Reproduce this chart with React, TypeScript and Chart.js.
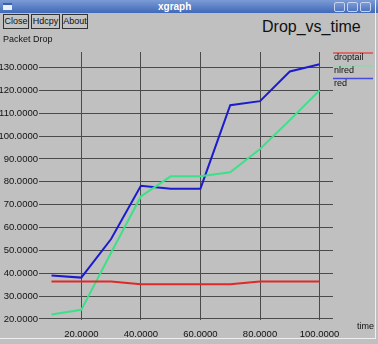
import React, { useEffect, useRef } from "react";
import { Chart, registerables } from "chart.js";

Chart.register(...registerables);

const times = [10, 20, 30, 40, 50, 60, 70, 80, 90, 100];
const droptail = [36.4, 36.4, 36.4, 35.2, 35.2, 35.2, 35.2, 36.4, 36.4, 36.4];
const nlred = [22, 24, 49, 73.6, 82.4, 82.4, 84.2, 94.4, 107, 120];
const red = [39, 38.1, 55, 78.3, 77, 77, 113.5, 115.3, 128.3, 131.4];
const xTicks = [20, 40, 60, 80, 100];
const yTicks = [20, 30, 40, 50, 60, 70, 80, 90, 100, 110, 120, 130];
const seriesNames = ["droptail", "nlred", "red"];
const seriesColors = ["#e02828", "#3ce088", "#1c1ccc"];
const legendColors = ["#e05050", "#80e0a8", "#4a4ad8"];

const FONT = "'Liberation Sans', Arial, sans-serif";

export default function App() {
  const ref = useRef<HTMLCanvasElement | null>(null);

  useEffect(() => {
    if (!ref.current) return;
    const series = [droptail, nlred, red];
    const legendPlugin = {
      id: "xgLegend",
      afterDraw(chart: any) {
        const ctx = chart.ctx;
        const a = chart.chartArea;
        ctx.save();
        ctx.font = `9px ${FONT}`;
        ctx.textBaseline = "middle";
        ctx.textAlign = "left";
        seriesNames.forEach((name, i) => {
          const y = a.top + 1 + i * 12.7;
          ctx.strokeStyle = legendColors[i];
          ctx.lineWidth = 1.5;
          ctx.beginPath();
          ctx.moveTo(a.right, y);
          ctx.lineTo(a.right + 40, y);
          ctx.stroke();
          ctx.fillStyle = "#111";
          ctx.fillText(name, a.right + 1, y + 5);
        });
        ctx.fillText("Packet Drop", 3, 40);
        ctx.fillText("time", 357, 327);
        ctx.restore();
      },
    };
    const chart = new Chart(ref.current, {
      type: "line",
      data: {
        datasets: series.map((s, i) => ({
          label: seriesNames[i],
          data: s.map((v, j) => ({ x: times[j], y: v })),
          borderColor: seriesColors[i],
          backgroundColor: seriesColors[i],
          borderWidth: 2,
          pointRadius: 0,
          tension: 0,
          fill: false,
        })),
      },
      options: {
        animation: false,
        responsive: false,
        maintainAspectRatio: false,
        layout: { padding: { top: 52, right: 45, left: 0, bottom: 0 } },
        plugins: {
          legend: { display: false },
          tooltip: { enabled: false },
          title: { display: false },
        },
        scales: {
          x: {
            type: "linear",
            min: 5.8,
            max: 104.5,
            border: { display: false },
            grid: { color: "#4a4a4a", lineWidth: 1, drawTicks: false },
            afterBuildTicks: (scale: any) => {
              scale.ticks = xTicks.map((v) => ({ value: v }));
            },
            afterFit: (scale: any) => {
              scale.height = 24;
            },
            ticks: {
              padding: 9,
              color: "#111",
              font: { family: FONT, size: 9.5 },
              maxRotation: 0,
              autoSkip: false,
              callback: (v: any) => Number(v).toFixed(4),
            },
          },
          y: {
            type: "linear",
            min: 19.56,
            max: 136.8,
            border: { display: false },
            grid: { color: "#4a4a4a", lineWidth: 1, drawTicks: false },
            afterBuildTicks: (scale: any) => {
              scale.ticks = yTicks.map((v) => ({ value: v }));
            },
            afterFit: (scale: any) => {
              scale.width = 39;
            },
            ticks: {
              padding: 1,
              color: "#111",
              font: { family: FONT, size: 9.5 },
              autoSkip: false,
              callback: (v: any) => Number(v).toFixed(4),
            },
          },
        },
      },
      plugins: [legendPlugin],
    });
    return () => chart.destroy();
  }, []);

  const btn: React.CSSProperties = {
    position: "absolute",
    top: 14,
    height: 15,
    boxSizing: "border-box",
    border: "1px solid #333",
    background: "#c4c4c4",
    font: `9px ${FONT}`,
    color: "#111",
    lineHeight: "13px",
    textAlign: "center",
    overflow: "hidden",
    whiteSpace: "nowrap",
  };
  const winBtn: React.CSSProperties = {
    position: "absolute",
    top: 2,
    width: 11,
    height: 10,
    boxSizing: "border-box",
    border: "1px solid #c8d4ee",
    borderRadius: 2,
    background: "linear-gradient(#7d9ad6, #4e74c0)",
  };

  return (
    <div
      style={{
        position: "fixed",
        left: 0,
        top: 0,
        width: 378,
        height: 344,
        background: "#c0c0c0",
        overflow: "hidden",
      }}
    >
      <div
        style={{
          position: "absolute",
          left: 0,
          top: 0,
          width: 378,
          height: 13,
          background: "linear-gradient(#7c9bd6, #3f69b8)",
        }}
      >
        <div
          style={{
            position: "absolute",
            left: 3,
            top: 3,
            width: 9,
            height: 7,
            background: "#e8eef8",
            borderTop: "2px solid #3a5fa8",
            boxSizing: "border-box",
          }}
        />
        <div
          style={{
            position: "absolute",
            left: 158,
            top: 0,
            font: `bold 10px ${FONT}`,
            color: "#ffffff",
            lineHeight: "13px",
          }}
        >
          xgraph
        </div>
        <div style={{ ...winBtn, left: 334 }} />
        <div style={{ ...winBtn, left: 347 }} />
        <div style={{ ...winBtn, left: 360 }} />
      </div>
      <div style={{ ...btn, left: 3, width: 26 }}>Close</div>
      <div style={{ ...btn, left: 31, width: 29 }}>Hdcpy</div>
      <div style={{ ...btn, left: 62, width: 26 }}>About</div>
      <div
        style={{
          position: "absolute",
          left: 262,
          top: 16,
          font: `16px ${FONT}`,
          color: "#111",
          lineHeight: "22px",
        }}
      >
        Drop_vs_time
      </div>
      <canvas
        ref={ref}
        width={378}
        height={344}
        style={{ position: "absolute", left: 0, top: 0, width: 378, height: 344 }}
      />
      <div
        style={{
          position: "absolute",
          left: 0,
          top: 0,
          width: 376,
          height: 339,
          boxSizing: "border-box",
          borderRight: "1px solid #eeeeee",
          borderBottom: "1px solid #eeeeee",
          pointerEvents: "none",
        }}
      />
    </div>
  );
}
